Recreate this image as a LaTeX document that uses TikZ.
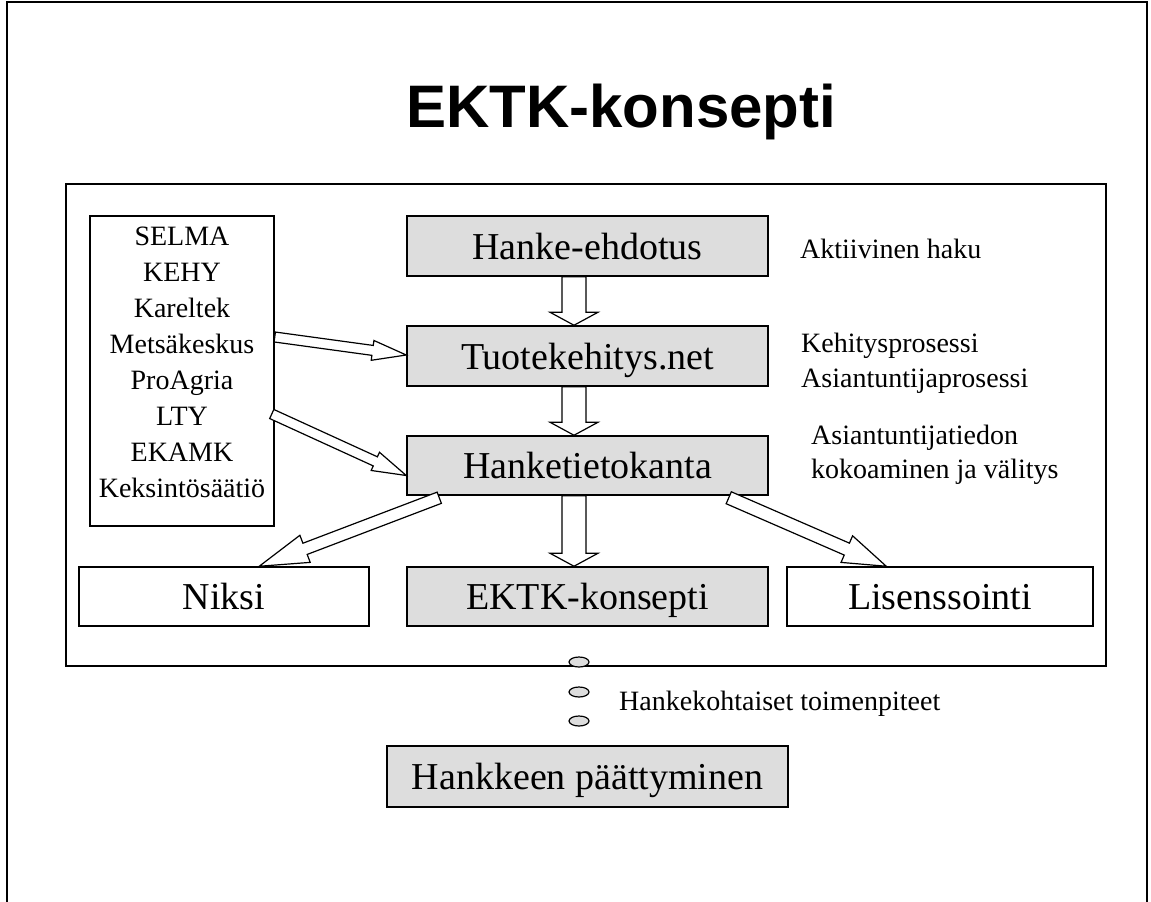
\documentclass[tikz,border=0pt]{standalone}
\usepackage{fontspec}
\setmainfont{Liberation Serif}
\newfontfamily\titlefont{Liberation Sans}
\usetikzlibrary{calc}

\definecolor{boxgray}{HTML}{DDDDDD}
\tikzset{
  frame/.style={draw=black, line width=1.2pt},
  gbox/.style={draw=black, line width=1.5pt, fill=boxgray, inner sep=0pt,
               text height=26.5pt, text depth=0pt,
               font=\fontsize{38}{44}\selectfont},
  wbox/.style={gbox, fill=white},
  lbl/.style={inner sep=0pt, anchor=base west, font=\fontsize{28}{34}\selectfont},
  blockarr/.style={draw=black, line width=1.2pt, fill=white, line join=miter},
  dotmark/.style={draw=black, line width=1.2pt, fill=boxgray}
}

% hollow block arrow: tail, tip, half shaft width, half head width, head length
\newcommand{\blockarrow}[5]{%
  \coordinate (ba-h) at ($(#2)!#5!(#1)$);
  \draw[blockarr] ($(#1)!#3!90:(#2)$) -- ($(ba-h)!#3!-90:(#1)$)
    -- ($(ba-h)!#4!-90:(#1)$) -- (#2) -- ($(ba-h)!#4!90:(#1)$)
    -- ($(ba-h)!#3!90:(#1)$) -- ($(#1)!#3!-90:(#2)$) -- cycle;}

\begin{document}
\begin{tikzpicture}[x=1pt, y=-1pt]
\useasboundingbox (0,0) rectangle (1151,902);

% page frame (open at the bottom)
\draw[frame] (7,902) -- (7,2) -- (1147,2) -- (1147,902);

% title
\node[inner sep=0pt, anchor=base west, font=\titlefont\bfseries\fontsize{60}{70}\selectfont]
  (title) at (406,127) {EKTK-konsepti};

% inner frame
\draw[frame] (66,184) rectangle (1106,666);

% partner list
\node[draw=black, line width=1.5pt, fill=white, minimum width=184pt, minimum height=310pt,
      inner sep=0pt] (partners) at (182,371) {};
\node[inner sep=0pt, align=center, anchor=north, font=\fontsize{28}{36}\selectfont]
  (plist) at (182,227) {SELMA\\KEHY\\Kareltek\\Metsäkeskus\\ProAgria\\LTY\\EKAMK\\Keksintösäätiö};

% main chain
\node[gbox, minimum width=361pt, minimum height=60pt] (hanke) at (587.5,246) {Hanke-ehdotus};
\node[gbox, minimum width=361pt, minimum height=60pt] (tuote) at (587.5,356) {Tuotekehitys.net};
\node[gbox, minimum width=361pt, minimum height=59pt] (tieto) at (587.5,465.5) {Hanketietokanta};
\node[wbox, minimum width=290pt, minimum height=59pt] (niksi) at (224,596.5) {Niksi};
\node[gbox, minimum width=361pt, minimum height=59pt] (ektk) at (587.5,596.5) {EKTK-konsepti};
\node[wbox, minimum width=306pt, minimum height=59pt] (lis) at (940,596.5) {Lisenssointi};
\node[gbox, minimum width=401pt, minimum height=61pt] (loppu) at (587.5,776.5) {Hankkeen päättyminen};

% side notes
\node[lbl] (n1) at (800,258) {Aktiivinen haku};
\node[lbl] (n2) at (801,352) {Kehitysprosessi};
\node[lbl] (n3) at (801,387) {Asiantuntijaprosessi};
\node[lbl] (n4) at (811,444) {Asiantuntijatiedon};
\node[lbl] (n5) at (811,478) {kokoaminen ja välitys};
\node[lbl] (n6) at (619,710) {Hankekohtaiset toimenpiteet};

% arrow end points
\coordinate (v1a) at ($(hanke.south)+(-13.5,0)$);
\coordinate (v1b) at ($(tuote.north)+(-13.5,0)$);
\coordinate (v2a) at ($(tuote.south)+(-13.5,0)$);
\coordinate (v2b) at ($(tieto.north)+(-13.5,0)$);
\coordinate (v3a) at ($(tieto.south)+(-13.5,0)$);
\coordinate (v3b) at ($(ektk.north)+(-13.5,0)$);
\coordinate (p1a) at ($(partners.east)+(0,-34)$);
\coordinate (p1b) at ($(tuote.west)+(0,-1)$);
\coordinate (p2a) at ($(partners.east)+(-3,43)$);
\coordinate (p2b) at ($(tieto.west)+(0,10)$);
\coordinate (d1a) at ($(tieto.south west)+(33,2)$);
\coordinate (d1b) at ($(niksi.north west)+(181,0)$);
\coordinate (d2a) at ($(tieto.south east)+(-40,2)$);
\coordinate (d2b) at ($(lis.north west)+(100,0)$);

% block arrows
\blockarrow{v1a}{v1b}{12pt}{24pt}{13pt}
\blockarrow{v2a}{v2b}{12pt}{24pt}{13pt}
\blockarrow{v3a}{v3b}{12pt}{24pt}{13pt}
\blockarrow{p1a}{p1b}{5pt}{10pt}{34pt}
\blockarrow{p2a}{p2b}{5pt}{10pt}{34pt}
\blockarrow{d1a}{d1b}{6pt}{14.5pt}{49pt}
\blockarrow{d2a}{d2b}{6.5pt}{14.5pt}{43pt}

% small ovals leading to the end of the project
\foreach \yy in {662, 692, 721}
  \draw[dotmark] (579,\yy) ellipse [x radius=10, y radius=5];
\end{tikzpicture}
\end{document}
